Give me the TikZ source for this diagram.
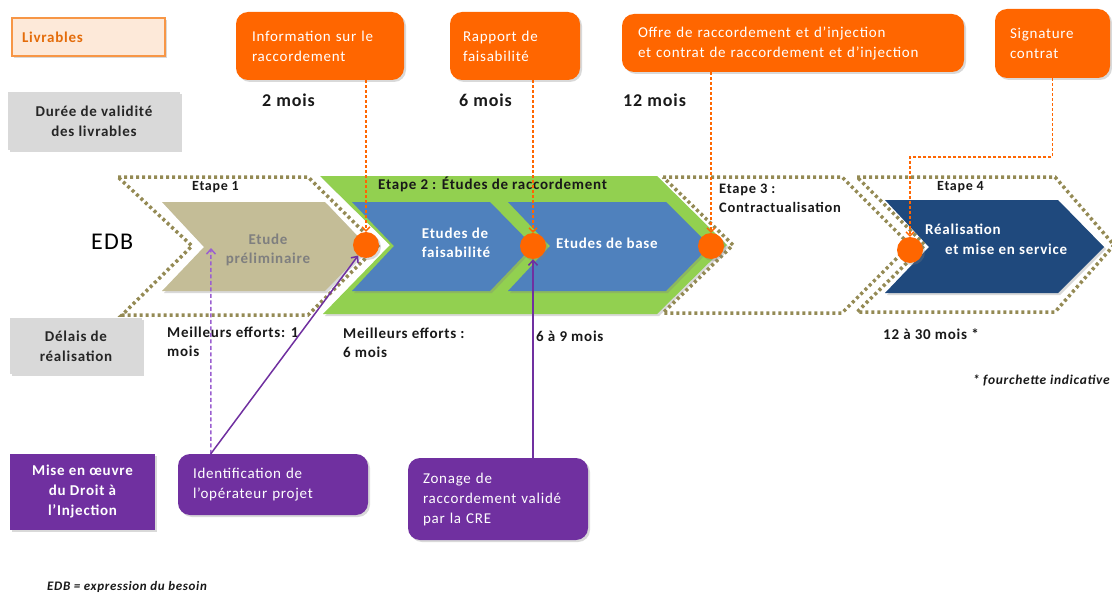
\documentclass[tikz,border=0pt]{standalone}
\usepackage{fontspec}
\setmainfont{Carlito}[LetterSpace=5]
\usetikzlibrary{arrows.meta,shadows,calc}
\definecolor{org}{HTML}{FF6600}
\definecolor{lorg}{HTML}{F79646}
\definecolor{lfill}{HTML}{FDE9D9}
\definecolor{dorg}{HTML}{E46C0A}
\definecolor{grayc}{HTML}{D9D9D9}
\definecolor{tanc}{HTML}{C4BD97}
\definecolor{greenc}{HTML}{92D050}
\definecolor{bluec}{HTML}{4F81BD}
\definecolor{navyc}{HTML}{1F497D}
\definecolor{olivec}{HTML}{948A54}
\definecolor{purc}{HTML}{7030A0}
\definecolor{lpurc}{HTML}{9B5FD0}
\definecolor{txtgray}{HTML}{7F7F7F}
\newcommand\myfs[2]{\fontsize{#1}{#2}\selectfont}
\tikzset{
  shad/.style={drop shadow={opacity=0.3,shadow xshift=2pt,shadow yshift=-2pt}},
  obox/.style={rectangle, rounded corners=12pt, fill=org, text=white, align=left, font=\myfs{15}{20}, shad},
  gbox/.style={rectangle, fill=grayc, text=black!85, align=center, font=\bfseries\myfs{15}{20}, shad},
  pbox/.style={rectangle, fill=purc, text=white, align=center, font=\bfseries\myfs{15}{20}, shad},
  prbox/.style={rectangle, rounded corners=12pt, fill=purc, text=white, align=left, font=\myfs{15}{20}, shad},
  lbl/.style={inner sep=0pt, align=left, font=\bfseries\myfs{15}{19}, text=black!90},
  circ/.style={circle, fill=org, minimum size=26pt, inner sep=0pt, shad},
  dotline/.style={draw=olivec, line width=3.5pt, dash pattern=on 3pt off 3pt, line join=miter},
  odash/.style={draw=org, line width=1.3pt, dash pattern=on 3pt off 2pt, -{Straight Barb[length=4pt,width=8pt]}},
  pdash/.style={draw=lpurc, line width=1.5pt, dash pattern=on 4pt off 2.5pt, -{Straight Barb[length=5pt,width=9pt]}},
  psolid/.style={draw=purc, line width=1.5pt, -{Straight Barb[length=5pt,width=9pt]}},
}
\begin{document}
\begin{tikzpicture}[x=1pt,y=-1pt]
\useasboundingbox (0,0) rectangle (1112,594);
% chevrons
\fill[greenc, shad] (320,176) -- (657,176) -- (727,245) -- (657,314) -- (323,314) -- (390,245) -- cycle;
\path[dotline] (118,177) -- (308,177) -- (378,246) -- (308,315) -- (122,315) -- (192,246) -- cycle;
\path[dotline] (663,177) -- (842,177) -- (910,245) -- (842,313) -- (663,313) -- (733,245) -- cycle;
\path[dotline] (857,177) -- (1055,177) -- (1114,245) -- (1055,312) -- (857,312) -- (925,245) -- cycle;
\fill[tanc, shad] (162,202) -- (325,202) -- (368,247) -- (325,291) -- (162,291) -- (204,247) -- cycle;
\fill[bluec, shad] (352,202) -- (490,202) -- (533,246) -- (490,291) -- (352,291) -- (394,246) -- cycle;
\fill[bluec, shad] (508,202) -- (666,202) -- (710,246) -- (666,291) -- (508,291) -- (550,246) -- cycle;
\fill[navyc, shad] (885,200) -- (1058,200) -- (1104,247) -- (1058,293) -- (885,293) -- (929,247) -- cycle;
% chevron texts
\node[lbl, anchor=west, font=\bfseries\myfs{14}{18}] (e1) at (192,187) {Etape 1};
\node[lbl, anchor=west, font=\bfseries\myfs{15}{18}] (e2) at (378,184) {Etape 2 : Études de raccordement};
\node[lbl, anchor=north west, font=\bfseries\myfs{14.5}{19}] (e3) at (719,184) {Etape 3 :\\Contractualisation};
\node[lbl, anchor=west, font=\bfseries\myfs{14}{18}] (e4) at (937,187) {Etape 4};
\node[lbl, align=center, text=txtgray] (tprel) at (268,250) {Etude\\préliminaire};
\node[lbl, align=left, text=white] (tfais) at (456,243) {Etudes de\\faisabilité};
\node[lbl, anchor=west, text=white] (tbase) at (556,243) {Etudes de base};
\node[lbl, anchor=north west, text=white, font=\bfseries\myfs{15}{20}] (treal) at (925,224) {Réalisation\\\hspace*{20pt}et mise en service};
\node[inner sep=0pt, anchor=west, font=\myfs{24}{30}] (edb) at (91,242) {EDB};
% circles
\node[circ] (c1) at (366,245) {};
\node[circ] (c2) at (533,246) {};
\node[circ] (c3) at (711,246) {};
\node[circ] (c4) at (910,250) {};
% left legend boxes
\node[rectangle, draw=lorg, fill=lfill, line width=1.2pt, text=dorg, font=\bfseries\myfs{15}{20}, minimum height=38pt, text width=133pt, inner xsep=10pt, align=left, shad] (livr) at (88.5,37) {Livrables};
\node[gbox, minimum width=172pt, minimum height=58pt] (duree) at (94,121) {Durée de validité\\des livrables};
\node[gbox, minimum width=132pt, minimum height=56pt] (delais) at (76,346) {Délais de\\réalisation};
\node[pbox, minimum width=145pt, minimum height=76pt] (droit) at (82.5,492) {Mise en œuvre\\du Droit à\\l'Injection};
% deliverables
\node[obox, text width=136pt, inner xsep=16pt, minimum height=68pt] (info) at (320,46) {Information sur le\\raccordement};
\node[obox, text width=104pt, inner xsep=13pt, minimum height=68pt] (rapp) at (515,46) {Rapport de\\faisabilité};
\node[obox, text width=310pt, inner xsep=16pt, minimum height=58pt] (offre) at (793,43) {Offre de raccordement et d'injection\\et contrat de raccordement et d'injection};
\node[obox, text width=85pt, inner xsep=15pt, minimum height=69pt] (sig) at (1052.5,43.5) {Signature\\contrat};
% validity
\node[lbl, anchor=west, font=\bfseries\myfs{18}{22}] (m2) at (262,100) {2 mois};
\node[lbl, anchor=west, font=\bfseries\myfs{18}{22}] (m6) at (459,100) {6 mois};
\node[lbl, anchor=west, font=\bfseries\myfs{18}{22}] (m12) at (623,100) {12 mois};
% delays
\node[lbl, anchor=north west] (d1) at (167,327) {Meilleurs efforts: 1\\mois};
\node[lbl, anchor=north west] (d2) at (343,328) {Meilleurs efforts :\\6 mois};
\node[lbl, anchor=west] (d3) at (536,336) {6 à 9 mois};
\node[lbl, anchor=west] (d4) at (883,334) {12 à 30 mois *};
\node[lbl, anchor=east, font=\bfseries\itshape\myfs{13.5}{16}] (fourch) at (1110,380) {* fourchette indicative};
\node[lbl, anchor=west, font=\bfseries\itshape\myfs{13}{16}] (edbnote) at (47,587) {EDB = expression du besoin};
% purple boxes
\node[prbox, text width=160pt, inner xsep=15pt, minimum height=61pt] (ident) at (273,484.5) {Identification de\\l'opérateur projet};
\node[prbox, text width=150pt, inner xsep=15pt, minimum height=82pt] (zon) at (498,499) {Zonage de\\raccordement validé\\par la CRE};
% connectors
\draw[odash] (info.south -| c1) -- (c1.north);
\draw[odash] (rapp.south -| c2) -- (c2.north);
\draw[odash] (offre.south -| c3) -- (c3.north);
\coordinate (sigbend) at (910,157);
\draw[odash] (sig.south) |- (sigbend) -- (c4.north);
\coordinate (idtop) at ([xshift=33pt]ident.north west);
\coordinate (tannotch) at (211,248);
\draw[pdash] (idtop) -- (tannotch);
\draw[psolid] (idtop) -- (c1);
\draw[psolid] (zon.north -| c2) -- (c2);
\end{tikzpicture}
\end{document}
